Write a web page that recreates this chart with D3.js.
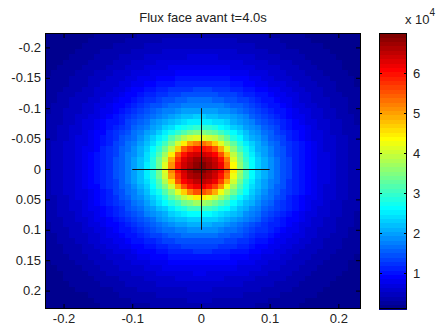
<!DOCTYPE html>
<html>
<head>
<meta charset="utf-8">
<script src="https://cdn.jsdelivr.net/npm/d3@7"></script>
<style>
  html, body { margin: 0; padding: 0; background: #fff; }
  svg { display: block; }
  text { font-family: "Liberation Sans", Arial, sans-serif; fill: #222; }
</style>
</head>
<body>
<svg id="chart" width="438" height="330"></svg>
<script>
// Radial flux profile of the front face (W/m²), sampled by distance from the centre (m)
const radius = [0, 0.01, 0.02, 0.03, 0.04, 0.05, 0.06, 0.07, 0.08, 0.09, 0.10, 0.11,
                0.12, 0.13, 0.14, 0.15, 0.16, 0.17, 0.18, 0.19, 0.20, 0.21, 0.22, 0.23,
                0.24, 0.25, 0.26, 0.27, 0.28, 0.29, 0.30, 0.31, 0.32, 0.33];
const flux = [70000, 68500, 65500, 62000, 54500, 42000, 34500, 28500, 24500, 21500, 19000, 16800,
              14800, 13000, 11400, 10000, 8800, 7700, 6800, 6000, 5300, 4700, 4100, 3600,
              3100, 2700, 2300, 2000, 1700, 1500, 1300, 1150, 1050, 1000];

// Grid of the face
const nCells = 51;
const xExtent = [-0.227, 0.233];
const yExtent = [-0.2237, 0.2303];

// Axis ticks
const xTicks = [-0.2, -0.1, 0, 0.1, 0.2];
const yTicks = [-0.2, -0.15, -0.1, -0.05, 0, 0.05, 0.1, 0.15, 0.2];
const cTicks = [10000, 20000, 30000, 40000, 50000, 60000];
const cTickLabels = ["1", "2", "3", "4", "5", "6"];

// Crosshair marking the centre (m)
const crossHalf = 0.1;

const title = "Flux face avant t=4.0s";

const svg = d3.select("#chart");
const plot = { left: 45, right: 361, top: 33, bottom: 309 };
const bar = { left: 379, right: 407 };

const x = d3.scaleLinear().domain(xExtent).range([plot.left, plot.right]);
const y = d3.scaleLinear().domain(yExtent).range([plot.top, plot.bottom]);

// MATLAB-style jet colormap with 64 entries
const nColors = 64;
const clamp01 = v => Math.max(0, Math.min(1, v));
const jet = d3.range(1, nColors + 1).map(i => {
  const t = i / nColors;
  const r = clamp01(Math.min(4 * t - 1.5, -4 * t + 4.5));
  const g = clamp01(Math.min(4 * t - 0.5, -4 * t + 3.5));
  const b = clamp01(Math.min(4 * t + 0.5, -4 * t + 2.5));
  return d3.rgb(r * 255, g * 255, b * 255).toString();
});

const cMin = d3.min(flux), cMax = d3.max(flux);
const colorIndex = v => Math.max(0, Math.min(nColors - 1, Math.floor((v - cMin) / (cMax - cMin) * nColors)));

// Flux lookup along the radial profile
const profile = d3.scaleLinear().domain(radius).range(flux).clamp(true);

const dx = (xExtent[1] - xExtent[0]) / nCells;
const dy = (yExtent[1] - yExtent[0]) / nCells;
const cells = [];
for (let j = 0; j < nCells; j++) {
  for (let i = 0; i < nCells; i++) {
    const cx = xExtent[0] + (i + 0.5) * dx;
    const cy = yExtent[0] + (j + 0.5) * dy;
    cells.push({ x0: xExtent[0] + i * dx, y0: yExtent[0] + j * dy, v: profile(Math.hypot(cx, cy)) });
  }
}

svg.append("g")
  .attr("shape-rendering", "crispEdges")
  .selectAll("rect")
  .data(cells)
  .join("rect")
  .attr("x", d => Math.floor(x(d.x0)))
  .attr("y", d => Math.floor(y(d.y0)))
  .attr("width", d => Math.ceil(x(d.x0 + dx)) - Math.floor(x(d.x0)))
  .attr("height", d => Math.ceil(y(d.y0 + dy)) - Math.floor(y(d.y0)))
  .attr("fill", d => jet[colorIndex(d.v)]);

// Crosshair
svg.append("g")
  .attr("stroke", "#111")
  .attr("stroke-width", 1)
  .call(g => g.append("line")
    .attr("x1", x(-crossHalf)).attr("x2", x(crossHalf))
    .attr("y1", Math.round(y(0)) + 0.5).attr("y2", Math.round(y(0)) + 0.5))
  .call(g => g.append("line")
    .attr("x1", Math.round(x(0)) + 0.5).attr("x2", Math.round(x(0)) + 0.5)
    .attr("y1", y(-crossHalf)).attr("y2", y(crossHalf)));

const fmt = d => String(d);
const fontSize = 13;

function styleAxis(g, showLabels) {
  g.select(".domain").remove();
  g.selectAll(".tick line").attr("stroke", "#000");
  g.selectAll(".tick text")
    .style("font-size", fontSize + "px")
    .attr("fill", "#222");
  if (!showLabels) g.selectAll(".tick text").remove();
}

svg.append("g")
  .attr("transform", `translate(0,${plot.bottom})`)
  .call(d3.axisBottom(x).tickValues(xTicks).tickFormat(fmt).tickSizeInner(-5).tickSizeOuter(0).tickPadding(5))
  .call(g => styleAxis(g, true));
svg.append("g")
  .attr("transform", `translate(0,${plot.top})`)
  .call(d3.axisTop(x).tickValues(xTicks).tickSizeInner(-5).tickSizeOuter(0))
  .call(g => styleAxis(g, false));
svg.append("g")
  .attr("transform", `translate(${plot.left},0)`)
  .call(d3.axisLeft(y).tickValues(yTicks).tickFormat(fmt).tickSizeInner(-5).tickSizeOuter(0).tickPadding(4))
  .call(g => styleAxis(g, true));
svg.append("g")
  .attr("transform", `translate(${plot.right},0)`)
  .call(d3.axisRight(y).tickValues(yTicks).tickSizeInner(-5).tickSizeOuter(0))
  .call(g => styleAxis(g, false));

svg.append("rect")
  .attr("x", plot.left + 0.5).attr("y", plot.top + 0.5)
  .attr("width", plot.right - plot.left - 1).attr("height", plot.bottom - plot.top - 1)
  .attr("fill", "none").attr("stroke", "#000");

// Colorbar
const c = d3.scaleLinear().domain([cMin, cMax]).range([plot.bottom, plot.top]);
const step = (cMax - cMin) / nColors;
svg.append("g")
  .attr("shape-rendering", "crispEdges")
  .selectAll("rect")
  .data(jet)
  .join("rect")
  .attr("x", bar.left)
  .attr("width", bar.right - bar.left)
  .attr("y", (d, i) => c(cMin + (i + 1) * step))
  .attr("height", (d, i) => c(cMin + i * step) - c(cMin + (i + 1) * step) + 0.5)
  .attr("fill", d => d);

svg.append("g")
  .attr("transform", `translate(${bar.right},0)`)
  .call(d3.axisRight(c).tickValues(cTicks).tickFormat((d, i) => cTickLabels[i]).tickSizeInner(-3).tickSizeOuter(0).tickPadding(6))
  .call(g => styleAxis(g, true));
svg.append("g")
  .attr("transform", `translate(${bar.left},0)`)
  .call(d3.axisLeft(c).tickValues(cTicks).tickSizeInner(-3).tickSizeOuter(0))
  .call(g => styleAxis(g, false));

svg.append("rect")
  .attr("x", bar.left + 0.5).attr("y", plot.top + 0.5)
  .attr("width", bar.right - bar.left - 1).attr("height", plot.bottom - plot.top - 1)
  .attr("fill", "none").attr("stroke", "#000");

const mult = svg.append("text")
  .attr("x", 405).attr("y", 24)
  .style("font-size", fontSize + "px");
mult.append("tspan").text("x 10");
mult.append("tspan").attr("dy", -8).style("font-size", "10px").text("4");

// Title
svg.append("text")
  .attr("x", (plot.left + plot.right) / 2)
  .attr("y", 22)
  .attr("text-anchor", "middle")
  .style("font-size", fontSize + "px")
  .text(title);
</script>
</body>
</html>
